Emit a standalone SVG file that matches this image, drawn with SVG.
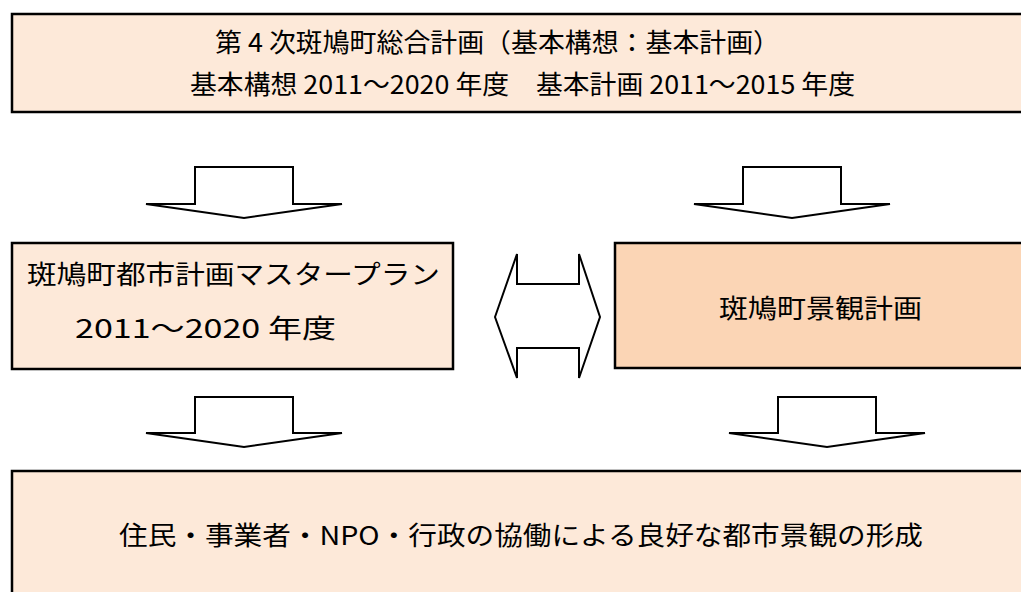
<svg xmlns="http://www.w3.org/2000/svg" width="1021" height="592" viewBox="0 0 1021 592">
<style>
.box{fill:#FDE9D9;stroke:#000;stroke-width:2.5}
.box2{fill:#FBD5B5;stroke:#000;stroke-width:2.5}
.arr{fill:#fff;stroke:#000;stroke-width:2;stroke-linejoin:miter}
text{font-family:"Noto Sans CJK JP","Noto Sans",sans-serif;font-size:26px;fill:#000}
</style>
<rect width="1021" height="592" fill="#fff"/>
<g id="node-general">
<rect class="box" x="12" y="14" width="1020" height="98"/>
<text x="215" y="52" textLength="565" lengthAdjust="spacingAndGlyphs">第 4 次斑鳩町総合計画（基本構想：基本計画）</text>
<text x="190" y="94" textLength="665" lengthAdjust="spacingAndGlyphs">基本構想 2011～2020 年度　基本計画 2011～2015 年度</text>
</g>
<g id="node-masterplan">
<rect class="box" x="12" y="243" width="441" height="126"/>
<text x="27" y="284" textLength="413" lengthAdjust="spacingAndGlyphs">斑鳩町都市計画マスタープラン</text>
<text x="75" y="338" textLength="261" lengthAdjust="spacingAndGlyphs">2011～2020 年度</text>
</g>
<g id="node-landscape">
<rect class="box2" x="615" y="243" width="420" height="125"/>
<text x="719" y="318" textLength="203" lengthAdjust="spacingAndGlyphs">斑鳩町景観計画</text>
</g>
<g id="node-result">
<rect class="box" x="12" y="471" width="1020" height="130"/>
<text x="119" y="545" textLength="804" lengthAdjust="spacingAndGlyphs">住民・事業者・NPO・行政の協働による良好な都市景観の形成</text>
</g>
<g id="connectors">
<polygon class="arr" points="195,167 293,167 293,204 342,204 244,218 146,204 195,204"/>
<polygon class="arr" points="743,167 841,167 841,204 890,204 792,218 694,204 743,204"/>
<polygon class="arr" points="495,317 517,254 517,284 579,284 579,254 600,317 579,378 579,348 517,348 517,378"/>
<polygon class="arr" points="195,397 293,397 293,433 342,433 244,447 146,433 195,433"/>
<polygon class="arr" points="778,397 876,397 876,433 925,433 827,447 729,433 778,433"/>
</g>
</svg>
